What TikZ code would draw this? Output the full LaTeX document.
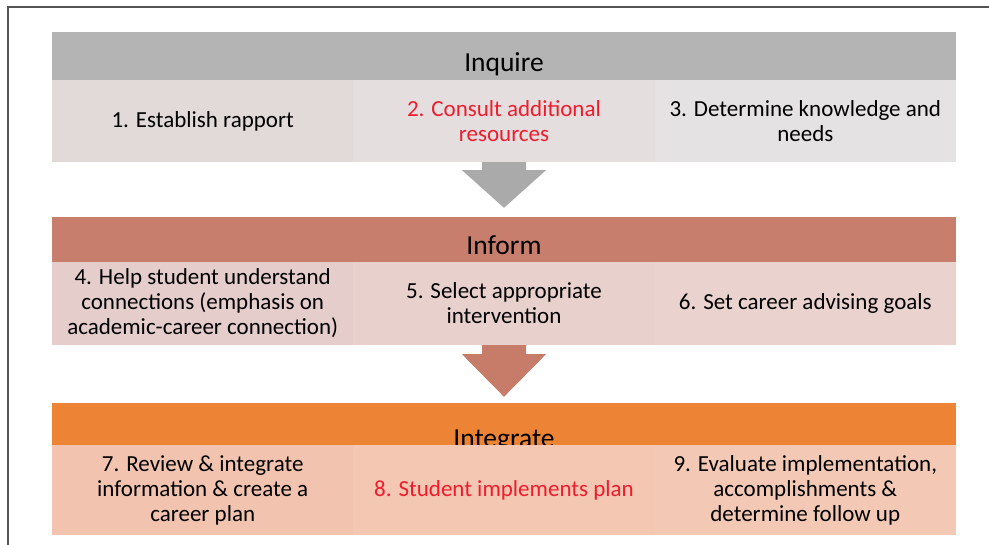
\documentclass[tikz,border=0pt]{standalone}
\usepackage{fontspec}
\setmainfont{Carlito}
\usetikzlibrary{calc}
\definecolor{inqhead}{RGB}{180,180,180}
\definecolor{inqcellA}{RGB}{226,217,217}
\definecolor{inqcellB}{RGB}{228,222,222}
\definecolor{inqcellC}{RGB}{229,226,228}
\definecolor{inqarrow}{RGB}{170,170,170}
\definecolor{infhead}{RGB}{200,126,108}
\definecolor{infcellA}{RGB}{229,205,204}
\definecolor{infcellB}{RGB}{232,208,205}
\definecolor{infcellC}{RGB}{234,210,206}
\definecolor{infarrow}{RGB}{199,124,106}
\definecolor{inthead}{RGB}{237,131,52}
\definecolor{intcellA}{RGB}{242,195,174}
\definecolor{intcellB}{RGB}{243,199,178}
\definecolor{intcellC}{RGB}{243,201,181}
\definecolor{steptext}{RGB}{240,28,45}
\definecolor{framegray}{RGB}{85,85,85}
\tikzset{
  bandhead/.style={minimum width=904pt, minimum height=#1, inner sep=0pt},
  cell/.style={minimum width=301.4pt, minimum height=#1, inner sep=0pt,
    align=center, font=\fontsize{23}{25}\selectfont},
  headtext/.style={anchor=base, inner sep=0pt, font=\fontsize{27.5}{30}\selectfont},
}
\begin{document}
\begin{tikzpicture}[x=1pt,y=-1pt]
\useasboundingbox (0,0) rectangle (989,545);
\draw [framegray, line width=1.4pt] (8,545) -- (8,7) -- (989,7);
% inquire
\node [bandhead=48pt, fill=inqhead] (inq) at (504,56) {};
\node [headtext] (inqt) at (504,72) {Inquire};
\node [cell=82pt, fill=inqcellA] (s1) at (202.7,121) {1. Establish rapport};
\node [cell=82pt, fill=inqcellB, text=steptext] (s2) at (504,121) {2. Consult additional\\resources};
\node [cell=82pt, fill=inqcellC] (s3) at (805.3,121) {3. Determine knowledge and\\needs};
% inform
\node [bandhead=45pt, fill=infhead] (inf) at (504,239.5) {};
\node [headtext] (inft) at (504,255) {Inform};
\node [cell=83pt, fill=infcellA] (s4) at (202.7,303.5) {4. Help student understand\\connections (emphasis on\\academic-career connection)};
\node [cell=83pt, fill=infcellB] (s5) at (504,303.5) {5. Select appropriate\\intervention};
\node [cell=83pt, fill=infcellC] (s6) at (805.3,303.5) {6. Set career advising goals};
% integrate
\node [bandhead=42pt, fill=inthead] (int) at (504,424) {};
\node [headtext] (intt) at (504,448) {Integrate};
\node [cell=90pt, fill=intcellA] (s7) at (202.7,490) {7. Review \& integrate\\information \& create a\\career plan};
\node [cell=90pt, fill=intcellB, text=steptext] (s8) at (504,490) {8. Student implements plan};
\node [cell=90pt, fill=intcellC] (s9) at (805.3,490) {9. Evaluate implementation,\\accomplishments \&\\determine follow up};
% arrows
\fill [inqarrow] ($(s2.south)+(-22,0)$) -- ++(0,8) -- ++(-20,0)
  -- ($(inf.north)+(0,-9)$) -- ($(s2.south)+(42,8)$) -- ++(-20,0) -- ++(0,-8) -- cycle;
\fill [infarrow] ($(s5.south)+(-22,0)$) -- ++(0,9) -- ++(-20,0)
  -- ($(int.north)+(0,-6)$) -- ($(s5.south)+(42,9)$) -- ++(-20,0) -- ++(0,-9) -- cycle;
\end{tikzpicture}
\end{document}
